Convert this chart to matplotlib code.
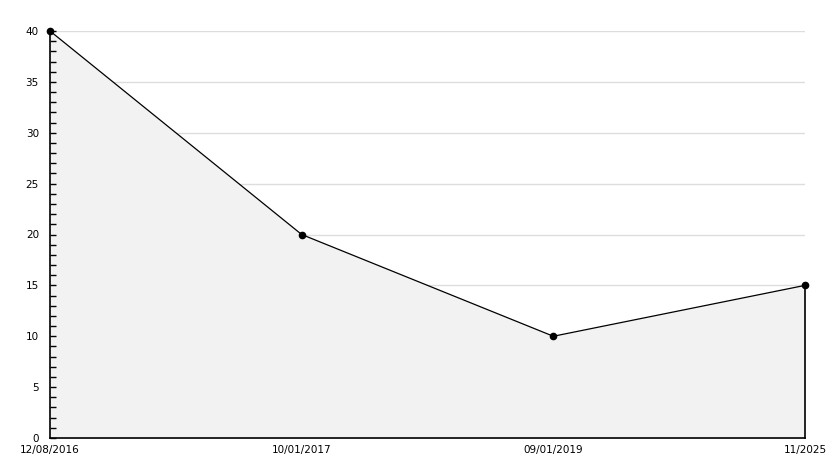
import matplotlib
matplotlib.use("Agg")
import matplotlib.pyplot as plt
from matplotlib.ticker import MultipleLocator

categories = ["12/08/2016", "10/01/2017", "09/01/2019", "11/2025"]
values = [40, 20, 10, 15]
yticks = [0, 5, 10, 15, 20, 25, 30, 35, 40]

W, H = 834, 468
fig = plt.figure(figsize=(W / 100, H / 100), dpi=100)
ax = fig.add_axes([50 / W, 30 / H, (805 - 50) / W, (438 - 31) / H])

x = list(range(len(categories)))
for yv in yticks[1:]:
    ax.axhline(yv, color="#dddddd", linewidth=1, zorder=0.5)
ax.fill_between(x, values, 0, color="#f2f2f2", zorder=1, linewidth=0)
ax.plot(x, values, color="black", linewidth=0.9, zorder=3, clip_on=False)
ax.plot([x[-1], x[-1]], [0, values[-1]], color="black", linewidth=1.2, zorder=3, clip_on=False)
ax.plot(x, values, "o", color="black", markersize=4.5, zorder=4, clip_on=False)

ax.set_xlim(x[0], x[-1])
ax.set_ylim(0, 40)
ax.set_xticks(x)
ax.set_xticklabels(categories, fontsize=7.5)
ax.set_yticks(yticks)
ax.set_yticklabels([str(v) for v in yticks], fontsize=7.5)
ax.yaxis.set_minor_locator(MultipleLocator(1))
ax.tick_params(axis="y", which="major", direction="in", length=4, width=1, pad=8)
ax.tick_params(axis="y", which="minor", direction="in", length=4, width=1)
ax.tick_params(axis="x", which="major", length=0, pad=5)
ax.set_axisbelow(False)

for s in ["top", "right"]:
    ax.spines[s].set_visible(False)
ax.spines["left"].set_linewidth(1.2)
ax.spines["bottom"].set_linewidth(1.2)

fig.savefig("out.png", dpi=100)
